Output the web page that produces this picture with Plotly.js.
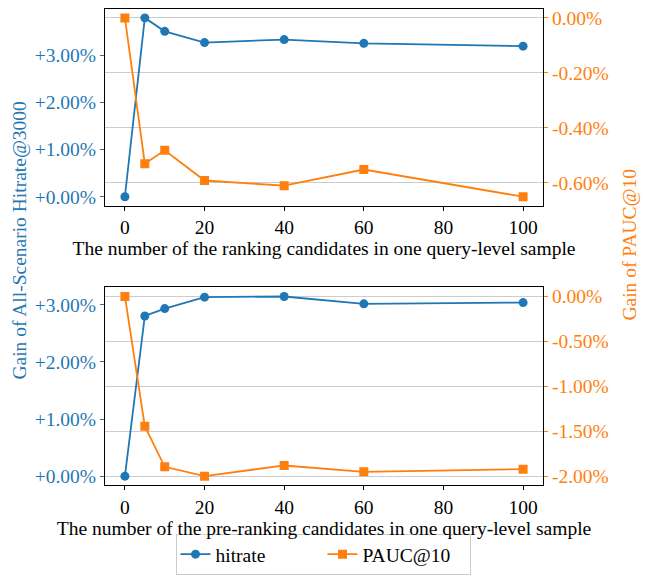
<!DOCTYPE html>
<html>
<head>
<meta charset="utf-8">
<script src="https://cdn.plot.ly/plotly-3.0.1.min.js"></script>
<style>
html,body{margin:0;padding:0;background:#fff;}
#chart{width:646px;height:575px;}
</style>
</head>
<body>
<div id="chart"></div>
<script>
// ---- data ----
const xValues = [0, 5, 10, 20, 40, 60, 100];
const rankingHitrate = [0.00, 3.80, 3.515, 3.275, 3.34, 3.26, 3.20];
const rankingPauc = [0.00, -0.531, -0.482, -0.592, -0.611, -0.552, -0.651];
const preRankingHitrate = [0.00, 2.806, 2.935, 3.135, 3.147, 3.018, 3.04];
const preRankingPauc = [0.00, -1.444, -1.896, -2.00, -1.881, -1.952, -1.922];

const xTickVals = [0, 20, 40, 60, 80, 100];
const hitTickVals = [0, 1, 2, 3];
const hitTickText = ['+0.00%', '+1.00%', '+2.00%', '+3.00%'];
const paucTopTickVals = [0, -0.2, -0.4, -0.6];
const paucTopTickText = ['0.00%', '-0.20%', '-0.40%', '-0.60%'];
const paucBotTickVals = [0, -0.5, -1.0, -1.5, -2.0];
const paucBotTickText = ['0.00%', '-0.50%', '-1.00%', '-1.50%', '-2.00%'];

const xTitleTop = 'The number of the ranking candidates in one query-level sample';
const xTitleBottom = 'The number of the pre-ranking candidates in one query-level sample';
const leftTitle = 'Gain of All-Scenario Hitrate@3000';
const rightTitle = 'Gain of PAUC@10';
const seriesNames = ['hitrate', 'PAUC@10'];

const BLUE = '#1f77b4', ORANGE = '#ff7f0e';
const FONT = 'Liberation Serif';
const FS = 19.5;

function pad(arr, frac) {
  const mn = Math.min(...arr), mx = Math.max(...arr);
  const m = (mx - mn) * frac;
  return [mn - m, mx + m];
}

const lineStyle = {width: 1.8};
const traces = [
  {x: xValues, y: rankingHitrate, xaxis: 'x', yaxis: 'y', name: seriesNames[0], mode: 'lines+markers',
   line: Object.assign({color: BLUE}, lineStyle), marker: {symbol: 'circle', size: 9, color: BLUE}, legendgroup: 'h'},
  {x: xValues, y: rankingPauc, xaxis: 'x', yaxis: 'y2', name: seriesNames[1], mode: 'lines+markers',
   line: Object.assign({color: ORANGE}, lineStyle), marker: {symbol: 'square', size: 9, color: ORANGE}, legendgroup: 'p'},
  {x: xValues, y: preRankingHitrate, xaxis: 'x2', yaxis: 'y3', name: seriesNames[0], mode: 'lines+markers', showlegend: false,
   line: Object.assign({color: BLUE}, lineStyle), marker: {symbol: 'circle', size: 9, color: BLUE}, legendgroup: 'h'},
  {x: xValues, y: preRankingPauc, xaxis: 'x2', yaxis: 'y4', name: seriesNames[1], mode: 'lines+markers', showlegend: false,
   line: Object.assign({color: ORANGE}, lineStyle), marker: {symbol: 'square', size: 9, color: ORANGE}, legendgroup: 'p'}
];

const xDomain = [105/646, 543/646];
const topDomain = [1 - 206/575, 1 - 9/575];
const botDomain = [1 - 486/575, 1 - 288/575];

const tickFont = {family: FONT, size: FS, color: '#000'};
function xAxis(anchor, title) {
  return {
    domain: xDomain, anchor: anchor, range: pad(xValues, 0.05),
    tickmode: 'array', tickvals: xTickVals, ticks: 'outside', ticklen: 4, tickwidth: 1, tickcolor: '#000',
    showline: true, linecolor: '#000', linewidth: 1, mirror: true, showgrid: false, zeroline: false,
    tickfont: tickFont, title: {text: title, font: {family: FONT, size: FS, color: '#000'}, standoff: 0}
  };
}
function leftAxis(domain, anchor, data) {
  return {
    domain: domain, anchor: anchor, range: pad(data, 0.05),
    tickmode: 'array', tickvals: hitTickVals, ticktext: hitTickText,
    ticks: 'outside', ticklen: 4, tickwidth: 1, tickcolor: BLUE,
    showline: true, linecolor: '#000', linewidth: 1, showgrid: false, zeroline: false,
    tickfont: {family: FONT, size: FS, color: BLUE}
  };
}
function rightAxis(overlay, anchor, data, vals, text) {
  return {
    overlaying: overlay, anchor: anchor, side: 'right', range: pad(data, 0.05),
    tickmode: 'array', tickvals: vals, ticktext: text,
    ticks: 'outside', ticklen: 4, tickwidth: 1, tickcolor: ORANGE,
    showline: true, linecolor: '#000', linewidth: 1, showgrid: true, gridcolor: '#cccccc', gridwidth: 1, zeroline: false,
    tickfont: {family: FONT, size: FS, color: ORANGE}
  };
}

const layout = {
  width: 646, height: 575,
  margin: {l: 0, r: 0, t: 0, b: 0},
  paper_bgcolor: '#fff', plot_bgcolor: '#fff',
  font: {family: FONT, size: FS, color: '#000'},
  showlegend: true,
  legend: {orientation: 'h', x: 0.5, xanchor: 'center', y: 1 - 535/575, yanchor: 'top',
           bgcolor: '#fff', bordercolor: '#cccccc', borderwidth: 1,
           font: {family: FONT, size: FS, color: '#000'}, entrywidth: 102},
  xaxis: xAxis('y', xTitleTop),
  xaxis2: xAxis('y3', xTitleBottom),
  yaxis: leftAxis(topDomain, 'x', rankingHitrate),
  yaxis2: rightAxis('y', 'x', rankingPauc, paucTopTickVals, paucTopTickText),
  yaxis3: leftAxis(botDomain, 'x2', preRankingHitrate),
  yaxis4: rightAxis('y3', 'x2', preRankingPauc, paucBotTickVals, paucBotTickText),
  annotations: [
    {text: leftTitle, xref: 'paper', yref: 'paper', x: 20/646, y: 1 - 241/575, textangle: -90,
     showarrow: false, xanchor: 'center', yanchor: 'middle', font: {family: FONT, size: FS, color: BLUE}},
    {text: rightTitle, xref: 'paper', yref: 'paper', x: 630/646, y: 1 - 245/575, textangle: -90,
     showarrow: false, xanchor: 'center', yanchor: 'middle', font: {family: FONT, size: FS, color: ORANGE}}
  ]
};

Plotly.newPlot('chart', traces, layout, {displayModeBar: false, staticPlot: true});
</script>
</body>
</html>
